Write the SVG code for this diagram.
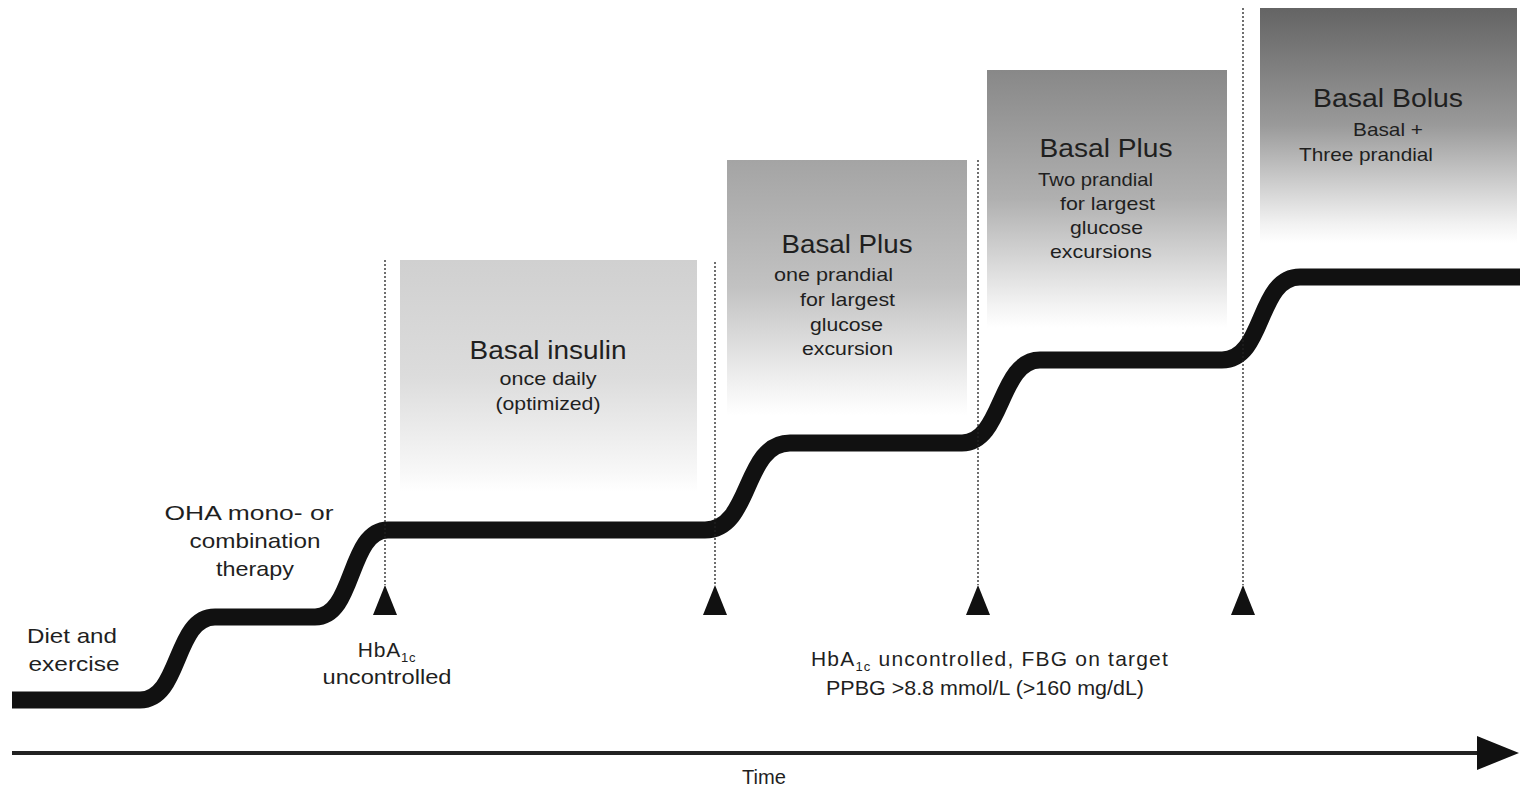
<svg xmlns="http://www.w3.org/2000/svg" width="1520" height="789" viewBox="0 0 1520 789">
<style>
text{font-family:"Liberation Sans",Arial,sans-serif;fill:#1f1f1f}
.title{font-size:25px;text-anchor:middle}
.sub{font-size:19px}
.lbl{font-size:21px;text-anchor:middle}
.dot{stroke:#222;stroke-width:1.3;stroke-dasharray:2 2;fill:none}
.tri{fill:#111}
</style>
<defs>
<linearGradient id="g1" x1="0" y1="0" x2="0" y2="1">
<stop offset="0" stop-color="#d0d0d0"/><stop offset="0.5" stop-color="#dcdcdc"/><stop offset="0.92" stop-color="#f8f8f8"/><stop offset="1" stop-color="#fff"/>
</linearGradient>
<linearGradient id="g2" x1="0" y1="0" x2="0" y2="1">
<stop offset="0" stop-color="#a4a4a4"/><stop offset="0.5" stop-color="#c2c2c2"/><stop offset="0.92" stop-color="#f6f6f6"/><stop offset="1" stop-color="#fff"/>
</linearGradient>
<linearGradient id="g3" x1="0" y1="0" x2="0" y2="1">
<stop offset="0" stop-color="#888"/><stop offset="0.5" stop-color="#b0b0b0"/><stop offset="0.92" stop-color="#f4f4f4"/><stop offset="1" stop-color="#fff"/>
</linearGradient>
<linearGradient id="g4" x1="0" y1="0" x2="0" y2="1">
<stop offset="0" stop-color="#646464"/><stop offset="0.5" stop-color="#9a9a9a"/><stop offset="0.92" stop-color="#f2f2f2"/><stop offset="1" stop-color="#fff"/>
</linearGradient>
<marker id="arr" markerUnits="userSpaceOnUse" markerWidth="44" markerHeight="34" refX="40" refY="17" orient="auto">
<path d="M0,0 L42,17 L0,34 Z" fill="#111"/>
</marker>
</defs>
<rect width="1520" height="789" fill="#fff"/>

<g id="box-basal-insulin">
<rect x="400" y="260" width="297" height="232" fill="url(#g1)"/>
<text class="title" x="548" y="359" textLength="157" lengthAdjust="spacingAndGlyphs">Basal insulin</text>
<text class="sub" x="548" y="385" text-anchor="middle" textLength="97" lengthAdjust="spacingAndGlyphs">once daily</text>
<text class="sub" x="548" y="410" text-anchor="middle" textLength="105" lengthAdjust="spacingAndGlyphs">(optimized)</text>
</g>

<g id="box-basal-plus-1">
<rect x="727" y="160" width="240" height="255" fill="url(#g2)"/>
<text class="title" x="847" y="253" textLength="131" lengthAdjust="spacingAndGlyphs">Basal Plus</text>
<text class="sub" x="774" y="281" textLength="119" lengthAdjust="spacingAndGlyphs">one prandial</text>
<text class="sub" x="800" y="306" textLength="95" lengthAdjust="spacingAndGlyphs">for largest</text>
<text class="sub" x="810" y="331" textLength="73" lengthAdjust="spacingAndGlyphs">glucose</text>
<text class="sub" x="802" y="355" textLength="91" lengthAdjust="spacingAndGlyphs">excursion</text>
</g>

<g id="box-basal-plus-2">
<rect x="987" y="70" width="240" height="258" fill="url(#g3)"/>
<text class="title" x="1106" y="157" textLength="133" lengthAdjust="spacingAndGlyphs">Basal Plus</text>
<text class="sub" x="1038" y="186" textLength="115" lengthAdjust="spacingAndGlyphs">Two prandial</text>
<text class="sub" x="1060" y="210" textLength="95" lengthAdjust="spacingAndGlyphs">for largest</text>
<text class="sub" x="1070" y="234" textLength="73" lengthAdjust="spacingAndGlyphs">glucose</text>
<text class="sub" x="1050" y="258" textLength="102" lengthAdjust="spacingAndGlyphs">excursions</text>
</g>

<g id="box-basal-bolus">
<rect x="1260" y="8" width="257" height="235" fill="url(#g4)"/>
<text class="title" x="1388" y="107" textLength="150" lengthAdjust="spacingAndGlyphs">Basal Bolus</text>
<text class="sub" x="1353" y="136" textLength="70" lengthAdjust="spacingAndGlyphs">Basal +</text>
<text class="sub" x="1299" y="161" textLength="134" lengthAdjust="spacingAndGlyphs">Three prandial</text>
</g>

<g id="label-diet">
<text class="lbl" x="72" y="643" textLength="90" lengthAdjust="spacingAndGlyphs">Diet and</text>
<text class="lbl" x="74" y="671" textLength="91" lengthAdjust="spacingAndGlyphs">exercise</text>
</g>

<g id="label-oha">
<text class="lbl" x="249" y="520" textLength="169" lengthAdjust="spacingAndGlyphs">OHA mono- or</text>
<text class="lbl" x="255" y="548" textLength="131" lengthAdjust="spacingAndGlyphs">combination</text>
<text class="lbl" x="255" y="576" textLength="78" lengthAdjust="spacingAndGlyphs">therapy</text>
</g>

<g id="label-hba1c">
<text class="lbl" x="387" y="657" style="letter-spacing:0.8px">HbA<tspan font-size="13" dy="5">1c</tspan></text>
<text class="lbl" x="387" y="684" textLength="129" lengthAdjust="spacingAndGlyphs">uncontrolled</text>
</g>

<g id="label-ppbg">
<text x="990" y="666" text-anchor="middle" style="font-size:21px;letter-spacing:1.2px">HbA<tspan font-size="13" dy="5">1c</tspan><tspan dy="-5"> uncontrolled, FBG on target</tspan></text>
<text class="lbl" x="985" y="695" textLength="318" lengthAdjust="spacingAndGlyphs">PPBG &gt;8.8 mmol/L (&gt;160 mg/dL)</text>
</g>

<g id="label-time">
<text x="764" y="784" text-anchor="middle" style="font-size:20px" textLength="44" lengthAdjust="spacingAndGlyphs">Time</text>
</g>

<g id="connectors">
<path d="M12,700 H140 C181,700 174,617 215,617 H315 C355,617 348,530 388,530 H705 C752,530 743,443 790,443 H962 C1003,443 999,360 1040,360 H1222 C1265,360 1257,277 1300,277 H1520" fill="none" stroke="#111" stroke-width="17"/>
<line class="dot" x1="385" y1="260" x2="385" y2="585"/>
<line class="dot" x1="715" y1="262" x2="715" y2="585"/>
<line class="dot" x1="978" y1="160" x2="978" y2="585"/>
<line class="dot" x1="1243" y1="8" x2="1243" y2="585"/>
<path class="tri" d="M385,585 L397,615 L373,615 Z"/>
<path class="tri" d="M715,585 L727,615 L703,615 Z"/>
<path class="tri" d="M978,585 L990,615 L966,615 Z"/>
<path class="tri" d="M1243,585 L1255,615 L1231,615 Z"/>
<line x1="12" y1="753" x2="1480" y2="753" stroke="#222" stroke-width="4"/>
<path d="M1477,736 L1519,753 L1477,770 Z" fill="#111"/>
</g>
</svg>
